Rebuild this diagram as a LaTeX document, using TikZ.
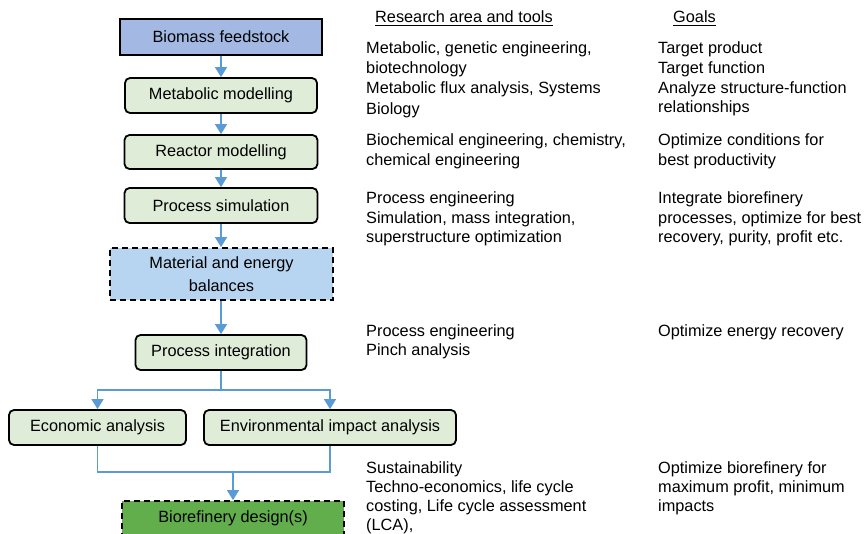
\documentclass[tikz,border=0pt]{standalone}
\usepackage{fontspec}
\setmainfont{Liberation Sans}
\usetikzlibrary{arrows.meta}
\definecolor{arrowblue}{HTML}{5B9BD5}
\definecolor{feedblue}{HTML}{A3B9E3}
\definecolor{lightgreen}{HTML}{DFEDD8}
\definecolor{balblue}{HTML}{B7D5F0}
\definecolor{designgreen}{HTML}{62AE4D}
\tikzset{
  boxbase/.style={draw=black, line width=1.8pt, inner sep=0pt, align=center,
    font=\fontsize{16.3}{23}\selectfont},
  feedbox/.style={boxbase, fill=feedblue, rectangle},
  stepbox/.style={boxbase, fill=lightgreen, rounded corners=5pt},
  balbox/.style={boxbase, fill=balblue, dash pattern=on 6pt off 4pt},
  designbox/.style={boxbase, fill=designgreen, dash pattern=on 6pt off 4pt},
  txt/.style={inner sep=0pt, anchor=base west,
    font=\fontsize{16.3}{19.8}\selectfont},
  link/.style={draw=arrowblue, line width=1.4pt},
  arr/.style={link, -{Triangle[width=12pt,length=10pt]}},
}
\newcommand\textline[4]{\node[txt] (#1) at (#2,#3) {#4};}
\begin{document}
\begin{tikzpicture}[x=1pt, y=-1pt]
\useasboundingbox (0,0) rectangle (865,533);
\fill[white] (0,0) rectangle (865,533);

% flow boxes
\node[feedbox, minimum width=202pt, minimum height=36pt] (feed) at (221,37) {Biomass feedstock};
\node[stepbox, minimum width=192pt, minimum height=35pt] (meta) at (221,95.5) {Metabolic modelling};
\node[stepbox, minimum width=193pt, minimum height=34pt] (reac) at (221,152) {Reactor modelling};
\node[stepbox, minimum width=193pt, minimum height=35pt] (psim) at (221,205.5) {Process simulation};
\node[balbox, minimum width=223pt, minimum height=52pt] (bal) at (221.5,274) {Material and energy\\balances};
\node[stepbox, minimum width=171pt, minimum height=35pt] (pint) at (221,352.5) {Process integration};
\node[stepbox, minimum width=177pt, minimum height=35pt] (econ) at (97.5,427.5) {Economic analysis};
\node[stepbox, minimum width=252pt, minimum height=35pt] (env) at (330,427.5) {Environmental impact analysis};
\node[designbox, minimum width=222pt, minimum height=34pt] (des) at (233,518) {Biorefinery design(s)};

% connectors
\draw[arr] (feed.south) -- (meta.north);
\draw[arr] (meta.south) -- (reac.north);
\draw[arr] (reac.south) -- (psim.north);
\draw[arr] (psim.south) -- (psim.south |- bal.north);
\draw[arr] (pint.north |- bal.south) -- (pint.north);
\coordinate (busA) at (221,390);
\draw[link] (pint.south) -- (busA);
\draw[arr] (busA) -| (econ.north);
\draw[arr] (busA) -| (env.north);
\coordinate (busB) at (233,472);
\draw[link] (econ.south) |- (busB);
\draw[link] (env.south) |- (busB);
\draw[arr] (busB) -- (des.north);

% headings
\textline{hres}{375}{22}{Research area and tools}
\textline{hgoal}{673}{22}{Goals}
\draw[line width=0.9pt] ([yshift=-3pt]hres.base west) -- ([yshift=-3pt]hres.base east);
\draw[line width=0.9pt] ([yshift=-3pt]hgoal.base west) -- ([yshift=-3pt]hgoal.base east);

% research column
\textline{ra1}{366}{53}{Metabolic, genetic engineering,}
\textline{ra2}{366}{73}{biotechnology}
\textline{ra3}{366}{93}{Metabolic flux analysis, Systems}
\textline{ra4}{366}{114}{Biology}
\textline{rb1}{366}{145}{Biochemical engineering, chemistry,}
\textline{rb2}{366}{165}{chemical engineering}
\textline{rc1}{366}{203}{Process engineering}
\textline{rc2}{366}{223}{Simulation, mass integration,}
\textline{rc3}{366}{242}{superstructure optimization}
\textline{rd1}{366}{336}{Process engineering}
\textline{rd2}{366}{355}{Pinch analysis}
\textline{re1}{366}{473}{Sustainability}
\textline{re2}{366}{492}{Techno-economics, life cycle}
\textline{re3}{366}{511}{costing, Life cycle assessment}
\textline{re4}{366}{530}{(LCA),}

% goals column
\textline{ga1}{658}{53}{Target product}
\textline{ga2}{658}{73}{Target function}
\textline{ga3}{658}{93}{Analyze structure-function}
\textline{ga4}{658}{112}{relationships}
\textline{gb1}{658}{145}{Optimize conditions for}
\textline{gb2}{658}{165}{best productivity}
\textline{gc1}{658}{203}{Integrate biorefinery}
\textline{gc2}{658}{223}{processes, optimize for best}
\textline{gc3}{658}{242}{recovery, purity, profit etc.}
\textline{gd1}{658}{336}{Optimize energy recovery}
\textline{ge1}{658}{473}{Optimize biorefinery for}
\textline{ge2}{658}{492}{maximum profit, minimum}
\textline{ge3}{658}{511}{impacts}
\end{tikzpicture}
\end{document}
